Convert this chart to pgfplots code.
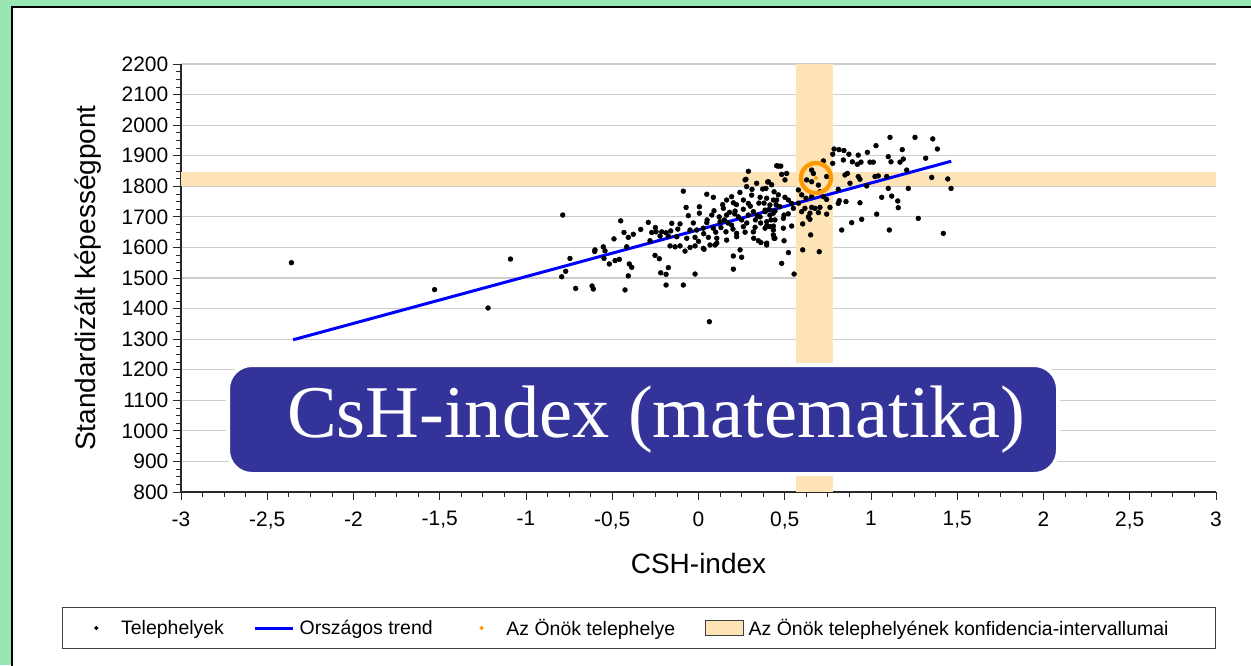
\documentclass[border=0pt]{standalone}
\usepackage{pgfplots}
\pgfplotsset{compat=1.18}
\usepackage{pgfplotstable}
\usepackage{fontspec}
\setmainfont{Liberation Sans}
\newfontfamily\serifbox{Liberation Serif}
\definecolor{bggreen}{RGB}{152,230,178}
\definecolor{peach}{RGB}{253,227,181}
\definecolor{boxblue}{RGB}{51,51,153}
\definecolor{orng}{RGB}{255,153,0}
\definecolor{gridgray}{RGB}{205,205,205}
\definecolor{axgray}{RGB}{40,40,40}

\pgfplotstableread{
x y
-2.36 1550
-1.53 1462
-1.22 1402
-1.09 1562
-0.787 1706
-0.745 1564
-0.77 1522
-0.793 1504
-0.712 1466
-0.602 1587
-0.617 1474
-0.61 1464
0.453 1867
0.289 1849
0.275 1823
0.337 1810
0.401 1814
0.424 1805
0.372 1791
-0.088 1784
0.048 1774
0.086 1764
0.192 1766
0.308 1771
0.357 1764
0.163 1755
0.202 1746
0.26 1755
0.289 1744
0.434 1755
-0.072 1731
0.005 1733
0.144 1728
0.212 1719
0.26 1725
0.318 1717
0.386 1722
0.443 1719
-0.059 1704
0.005 1712
0.077 1706
0.163 1706
0.231 1700
0.289 1706
0.357 1700
0.414 1706
-0.451 1687
-0.291 1682
-0.107 1677
-0.155 1679
0.048 1681
0.125 1684
0.192 1673
0.26 1668
0.328 1666
0.395 1670
0.434 1670
-0.432 1649
-0.378 1643
-0.335 1659
-0.271 1649
-0.246 1651
-0.213 1651
-0.188 1648
-0.161 1654
-0.049 1657
-0.01 1657
0.028 1663
0.086 1663
0.159 1651
0.221 1646
0.318 1651
0.434 1657
0.386 1663
-0.49 1628
-0.407 1633
-0.281 1622
-0.223 1637
-0.175 1637
-0.126 1635
-0.068 1630
-0.02 1633
0.057 1633
0.106 1630
0.163 1624
0.221 1635
0.347 1622
0.395 1614
0.438 1630
-0.6 1592
-0.552 1602
-0.542 1589
-0.416 1602
-0.165 1605
-0.136 1602
-0.107 1605
-0.078 1588
-0.049 1600
-0.02 1605
0.028 1597
0.067 1608
0.106 1614
0.241 1592
-0.548 1564
-0.517 1546
-0.484 1557
-0.459 1561
-0.252 1574
-0.227 1563
-0.401 1546
-0.387 1535
0.202 1572
0.25 1568
-0.175 1534
-0.219 1517
-0.188 1512
-0.02 1513
0.202 1529
-0.407 1507
-0.426 1461
-0.188 1477
-0.088 1477
0.063 1357
1.11 1960
1.255 1960
1.358 1955
1.029 1933
1.385 1922
0.786 1922
0.814 1920
0.843 1917
0.872 1905
0.926 1902
0.979 1911
1.1 1897
1.181 1920
0.778 1905
0.724 1883
0.778 1875
0.84 1886
0.892 1880
0.921 1872
0.942 1879
0.994 1879
1.013 1879
1.116 1880
1.168 1879
1.187 1889
1.317 1892
1.207 1853
0.463 1866
0.477 1866
0.482 1839
0.511 1842
0.405 1815
0.501 1821
0.656 1853
0.666 1842
0.627 1821
0.656 1815
0.695 1804
0.743 1832
0.849 1837
0.863 1842
0.878 1810
0.926 1832
0.936 1823
1.023 1832
1.042 1834
1.091 1832
1.352 1829
1.445 1824
1.464 1793
1.1 1793
1.216 1793
0.975 1801
0.81 1790
0.579 1788
0.598 1772
0.623 1761
0.656 1766
0.704 1782
0.724 1766
0.743 1757
0.816 1753
0.855 1750
0.936 1746
1.062 1764
1.12 1768
1.155 1752
1.158 1730
0.81 1744
0.656 1731
0.617 1728
0.675 1728
0.704 1731
0.762 1731
0.598 1717
0.646 1712
0.695 1714
0.743 1709
0.637 1700
0.646 1692
0.604 1677
1.033 1709
0.946 1692
1.274 1695
0.888 1681
0.83 1657
1.106 1657
1.419 1646
0.65 1641
0.604 1592
0.7 1586
0.521 1583
0.482 1548
0.554 1513
0.391 1793
0.438 1782
0.463 1772
0.501 1764
0.395 1761
0.453 1755
0.521 1755
0.414 1739
0.472 1733
0.54 1744
0.386 1717
0.434 1712
0.496 1706
0.55 1728
0.395 1684
0.443 1690
0.492 1695
0.54 1670
0.414 1668
0.434 1641
0.443 1630
0.492 1663
0.362 1616
0.395 1608
0.496 1622
0.27 1821
0.279 1799
0.032 1594
0.096 1608
0.12 1700
0.15 1690
0.18 1715
0.22 1740
0.25 1690
0.3 1735
0.33 1690
0.35 1745
0.2 1660
0.1 1650
0.05 1690
0.27 1650
0.32 1630
0.0 1620
-0.03 1680
0.14 1740
0.38 1745
0.36 1680
0.24 1780
0.31 1790
0.17 1680
0.21 1710
0.28 1680
0.34 1705
0.41 1725
0.45 1740
0.52 1710
0.58 1745
0.09 1720
0.13 1665
-0.12 1660
-0.25 1665
0.03 1645
0.42 1690
}\scatterdata

\begin{document}
\begin{tikzpicture}[x=0.75pt,y=-0.75pt]
\path[use as bounding box] (0,0) rectangle (1251,665);
\fill[bggreen] (0,0) rectangle (1251,665);
\begin{scope}
\clip (0,0) rectangle (1251,665);
\filldraw[fill=white, draw=black, line width=1.5pt] (12,7) rectangle (1300,720);
\end{scope}
\begin{scope}[x=1cm,y=1cm]
\begin{axis}[
  at={(135.75pt,-369pt)}, anchor=south west,
  scale only axis, width=776.25pt, height=321pt,
  xmin=-3, xmax=3, ymin=800, ymax=2200,
  axis lines*=left,
  axis line style={axgray, line width=0.8pt},
  xtick distance=0.5, ytick distance=100,
  minor x tick num=3, minor y tick num=3,
  tick align=outside, major tick length=6pt, minor tick length=3.5pt,
  tick style={axgray, line width=0.6pt},
  ymajorgrids, grid style={gridgray, line width=0.9pt},
  ticklabel style={font=\fontsize{15.7}{18}\selectfont},
  xticklabel style={yshift=-5pt},
  /pgf/number format/use comma,
  /pgf/number format/1000 sep={},
  /pgf/number format/assume math mode=true,
  xlabel={CSH-index}, ylabel={Standardizált képességpont},
  label style={font=\fontsize{21}{25}\selectfont},
  xlabel style={at={(axis description cs:0.5,-0.166)}, anchor=center},
  ylabel style={at={(axis description cs:-0.0899,0.5)}, anchor=center},
  legend columns=4,
  legend style={at={(axis description cs:0.4425,-0.3178)}, anchor=center,
    draw={rgb,255:red,64;green,64;blue,64}, line width=0.8pt,
    font=\fontsize{14.6}{17}\selectfont, inner xsep=10.5pt, inner ysep=6.5pt,
    /tikz/every even column/.append style={column sep=20pt},
    /tikz/every odd column/.append style={column sep=2pt}},
  legend cell align=left,
]
\addplot[fill=peach, draw=none, forget plot] coordinates {(0.565,800) (0.78,800) (0.78,2200) (0.565,2200)};
\addplot[fill=peach, draw=none, forget plot] coordinates {(-3,1801) (3,1801) (3,1847) (-3,1847)};
\addplot[only marks, mark=*, mark size=1.8pt, black,
  legend image code/.code={\path (0pt,0pt) (28.5pt,0pt); \fill[black] (14.25pt,0pt) circle (1.1pt);}]
  table[x=x,y=y] {\scatterdata};
\addlegendentry{Telephelyek}
\addplot[blue, line width=2.25pt,
  legend image code/.code={\draw[blue, line width=2.25pt] (0pt,0pt) -- (28.5pt,0pt);}]
  coordinates {(-2.35,1298) (1.465,1882)};
\addlegendentry{Országos trend}
\addplot[only marks, mark=o, mark size=11.25pt, orng, mark options={line width=3.2pt}, forget plot]
  coordinates {(0.681,1827)};
\addplot[only marks, mark=*, mark size=1.4pt, orng,
  legend image code/.code={\path (0pt,0pt) (28.5pt,0pt); \fill[orng] (14.25pt,0pt) circle (1.1pt);}]
  coordinates {(0.681,1827)};
\addlegendentry{Az Önök telephelye}
\addlegendimage{legend image code/.code={\draw[fill=peach, draw={rgb,255:red,64;green,64;blue,64}, line width=0.6pt] (0pt,-5.6pt) rectangle (28.5pt,5.6pt);}}
\addlegendentry{Az Önök telephelyének konfidencia-intervallumai\hspace*{22.5pt}}
\end{axis}
\end{scope}
\filldraw[fill=boxblue, draw=white, line width=3pt, rounded corners=18pt] (228,365) rectangle (1058,474);
\node[font=\serifbox\fontsize{55.8}{60}\selectfont, text=white, anchor=base, inner sep=0pt] at (656,437) {CsH-index (matematika)};
\end{tikzpicture}
\end{document}
